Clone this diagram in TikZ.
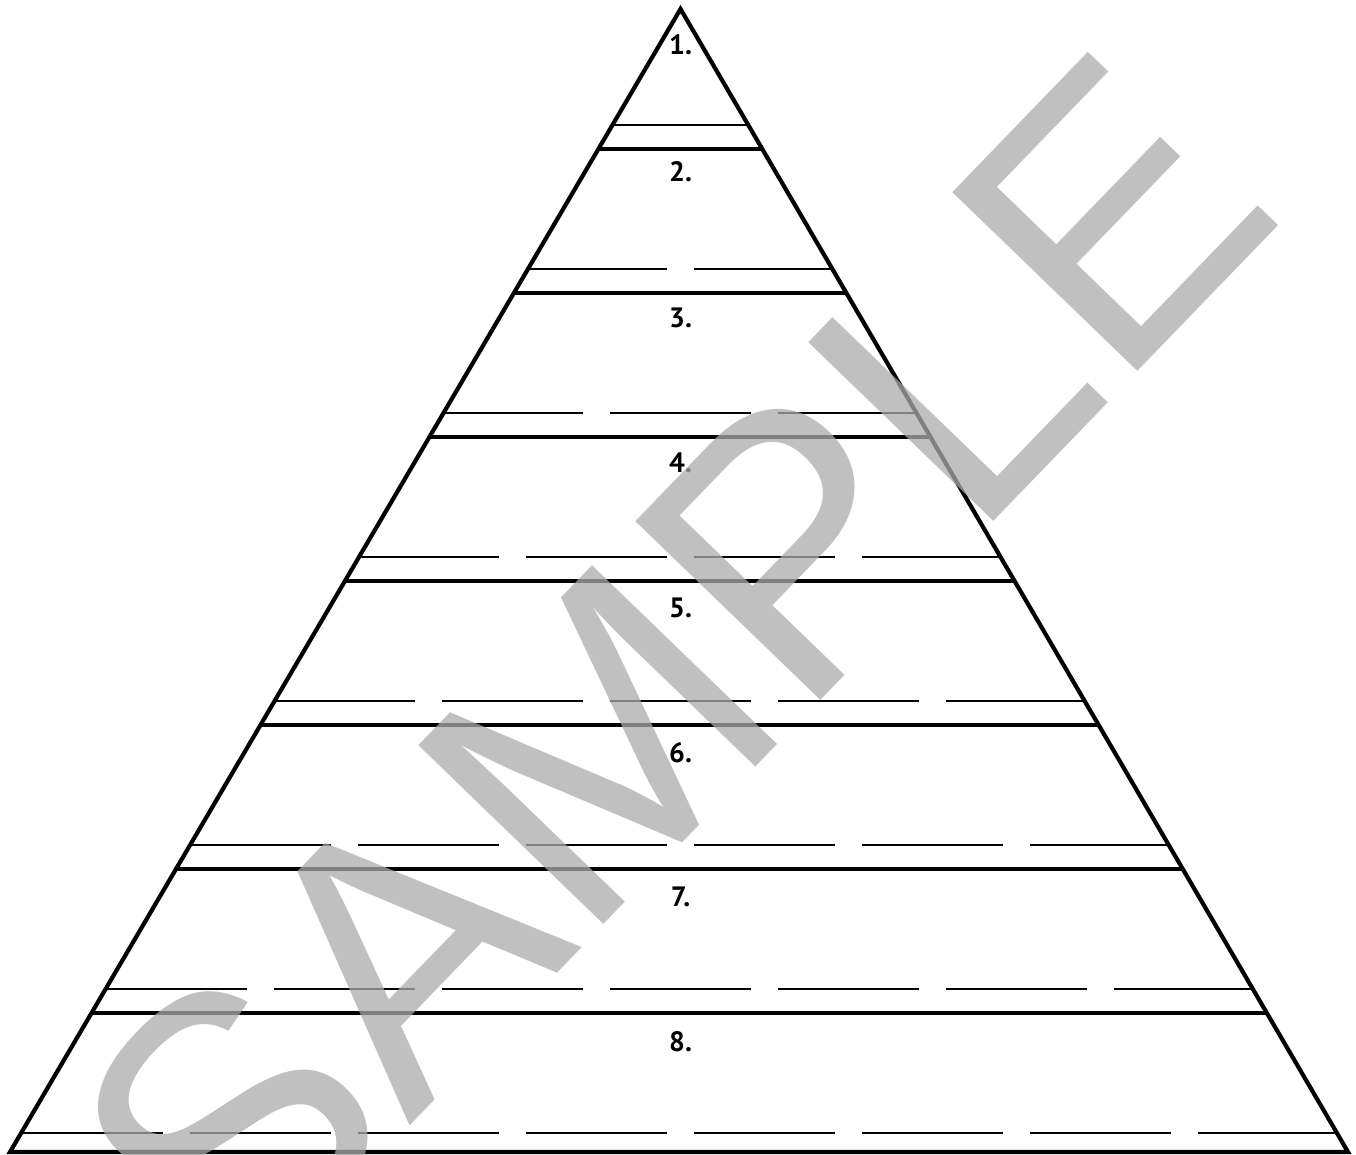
\documentclass[tikz,border=0pt]{standalone}
\usepackage{fontspec}
\newfontfamily\wmfont{Liberation Sans}
\newfontfamily\labfont{PT Sans}
\definecolor{wmgray}{RGB}{171,171,171}
\begin{document}
\begin{tikzpicture}[x=1pt,y=-1pt,
  edge/.style={line width=4.2pt, line join=miter},
  thickrule/.style={line width=4.8pt},
  thinrule/.style={line width=2.9pt},
  lab/.style={font=\labfont\bfseries\fontsize{28}{28}\selectfont, inner sep=0pt, anchor=base},
  wm/.style={font=\wmfont\fontsize{374}{374}\selectfont, text=wmgray, text opacity=0.75, inner sep=0pt, anchor=base west, rotate=46}]
\useasboundingbox (0,0) rectangle (1356,1155);
\fill[white] (0,0) rectangle (1356,1155);
\coordinate (A) at (680.5,9);
\coordinate (BL) at (10,1152);
\coordinate (BR) at (1348,1152);
\begin{scope}
  \clip (A) -- (BL) -- (BR) -- cycle;
  \foreach \k in {0,...,6} \draw[thickrule] (0,149+144*\k) -- (1356,149+144*\k);
  \foreach \n in {1,...,8} {
    \pgfmathsetmacro\yy{125+144*(\n-1)}
    \foreach \k in {1,...,\n} {
      \pgfmathsetmacro\cx{680.5+(\k-(\n+1)/2)*168}
      \draw[thinrule] (\cx-70.5,\yy) -- (\cx+70.5,\yy);
    }
  }
\end{scope}
\draw[edge] (A) -- (BL) -- (BR) -- cycle;
\foreach \n/\b in {1/55,2/182,3/327,4/472,5/617,6/762,7/906,8/1051}
  \node[lab] (l\n) at (680.5,\b) {\n.};
\node[wm] (wm) at (236,1306) {SAMPLE};
\end{tikzpicture}
\end{document}
